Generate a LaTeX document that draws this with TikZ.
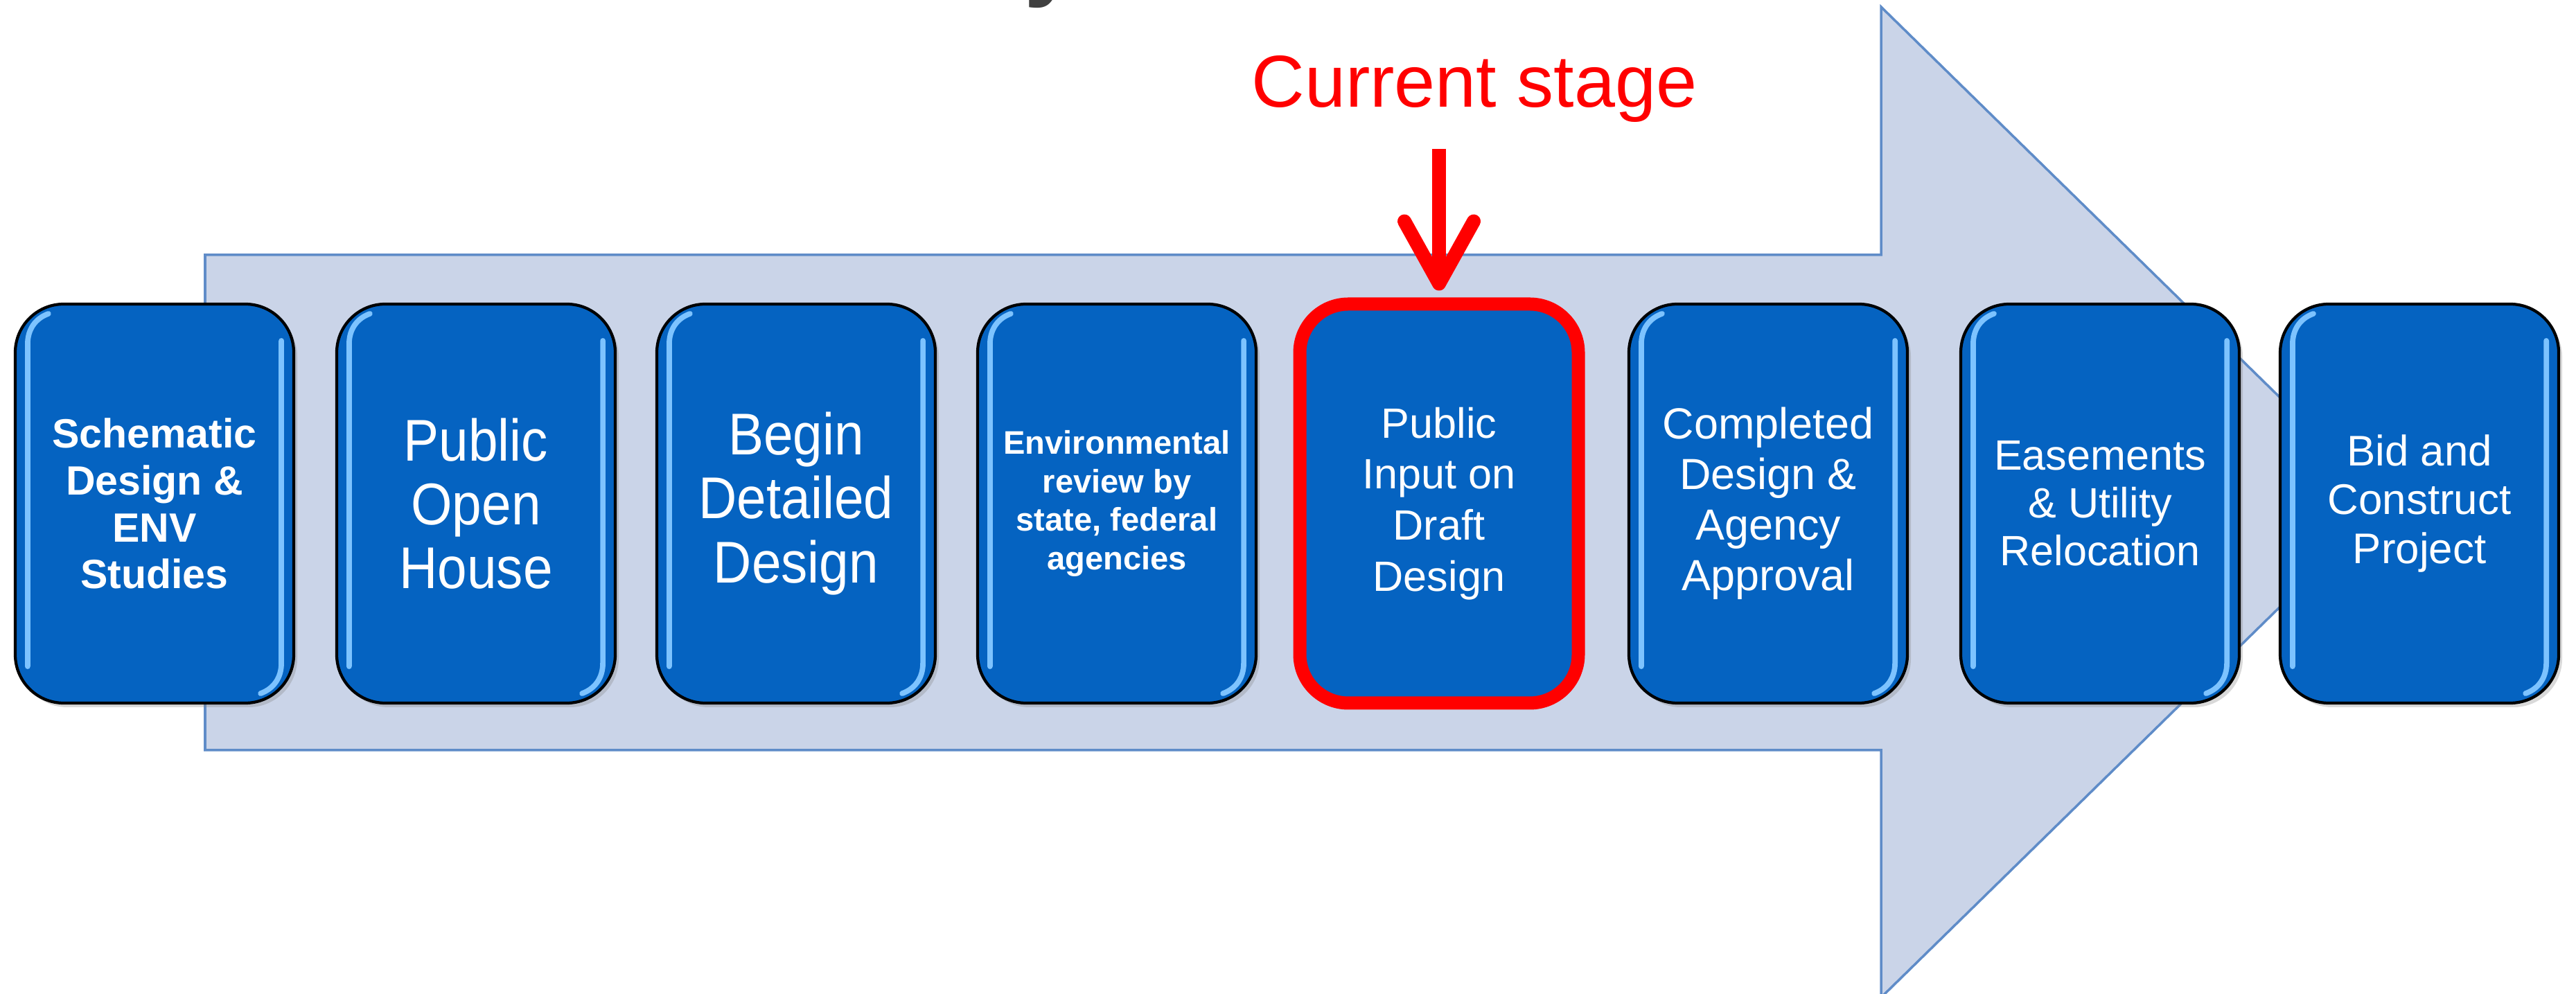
\documentclass[tikz,border=0pt]{standalone}
\usepackage{fontspec}
\setmainfont{Liberation Sans}
\newfontfamily\narrowfont[FakeStretch=0.9]{Liberation Sans}
\usetikzlibrary{arrows.meta,shadows}
\definecolor{boxblue}{RGB}{5,99,193}
\definecolor{hiblue}{RGB}{125,195,255}
\definecolor{arrowfill}{RGB}{202,212,232}
\definecolor{arrowline}{RGB}{95,140,200}
\definecolor{titlegray}{RGB}{64,64,64}
\begin{document}
\begin{tikzpicture}[
  stage/.style={rectangle,rounded corners=0.7cm,draw=black,line width=1.2pt,fill=boxblue,
    minimum width=4.02cm,minimum height=5.76cm,inner sep=0pt,text=white,align=center,
    drop shadow={opacity=0.3,shadow xshift=0.05cm,shadow yshift=-0.06cm}},
  current/.style={stage,draw=red,line width=0.19cm},
  hilite/.style={draw=hiblue,line width=2.2pt,line cap=round},
  bigarrow/.style={fill=arrowfill,draw=arrowline,line width=1pt},
  redarrow/.style={draw=red,line width=0.2cm,-{Straight Barb[length=0.9cm,width=1cm,round]}}]

\useasboundingbox (0,0) rectangle (37.18,14.35);
\clip (0,0) rectangle (37.18,14.35);

% cut-off title above the picture
\node(ttl) at (14.78,14.52)[anchor=base west,inner sep=0pt,text=titlegray,font=\fontsize{40}{48}\selectfont\bfseries] {y};

% background arrow
\draw[bigarrow] (2.96,10.67) -- (27.15,10.67) -- (27.15,14.25) -- (34.45,7.10)
  -- (27.15,-0.05) -- (27.15,3.52) -- (2.96,3.52) -- cycle;

\node(s1) at (2.23,7.08)[stage,font=\fontsize{16.8}{19.3}\selectfont\bfseries] {Schematic\\Design \&\\ENV\\Studies};
\node(s2) at (6.87,7.08)[stage,font=\fontsize{24.2}{26.2}\selectfont\narrowfont] {Public\\Open\\House};
\node(s3) at (11.49,7.08)[stage,font=\fontsize{24.2}{26.2}\selectfont\narrowfont] {Begin\\Detailed\\Design};
\node(s4) at (16.12,7.08)[stage,font=\fontsize{13.4}{15.9}\selectfont\bfseries] {Environmental\\review by\\state, federal\\agencies};
\node(s5) at (20.77,7.08)[current,font=\fontsize{17.4}{21}\selectfont] {Public\\Input on\\Draft\\Design};
\node(s6) at (25.52,7.08)[stage,font=\fontsize{17.9}{20.8}\selectfont] {Completed\\Design \&\\Agency\\Approval};
\node(s7) at (30.31,7.08)[stage,font=\fontsize{17.4}{19.6}\selectfont] {Easements\\\& Utility\\Relocation};
\node(s8) at (34.92,7.08)[stage,font=\fontsize{17.6}{20}\selectfont] {Bid and\\Construct\\Project};

% glossy edges
\foreach \n in {s1,s2,s3,s4,s6,s7,s8}{
  \draw[hilite] ([xshift=0.5cm,yshift=-0.16cm]\n.north west) to[out=200,in=90]
    ([xshift=0.2cm,yshift=-0.6cm]\n.north west) -- ([xshift=0.2cm,yshift=0.55cm]\n.south west);
  \draw[hilite] ([xshift=-0.2cm,yshift=-0.55cm]\n.north east) -- ([xshift=-0.2cm,yshift=0.6cm]\n.south east)
    to[out=-90,in=20] ([xshift=-0.5cm,yshift=0.16cm]\n.south east);
}

\node(cur) at (21.28,12.8)[anchor=base,text=red,font=\fontsize{30.2}{36}\selectfont] {Current stage};
\coordinate(top) at (20.77,12.2);
\draw[redarrow] (top) -- ([yshift=0.1cm]s5.north);

\end{tikzpicture}
\end{document}
